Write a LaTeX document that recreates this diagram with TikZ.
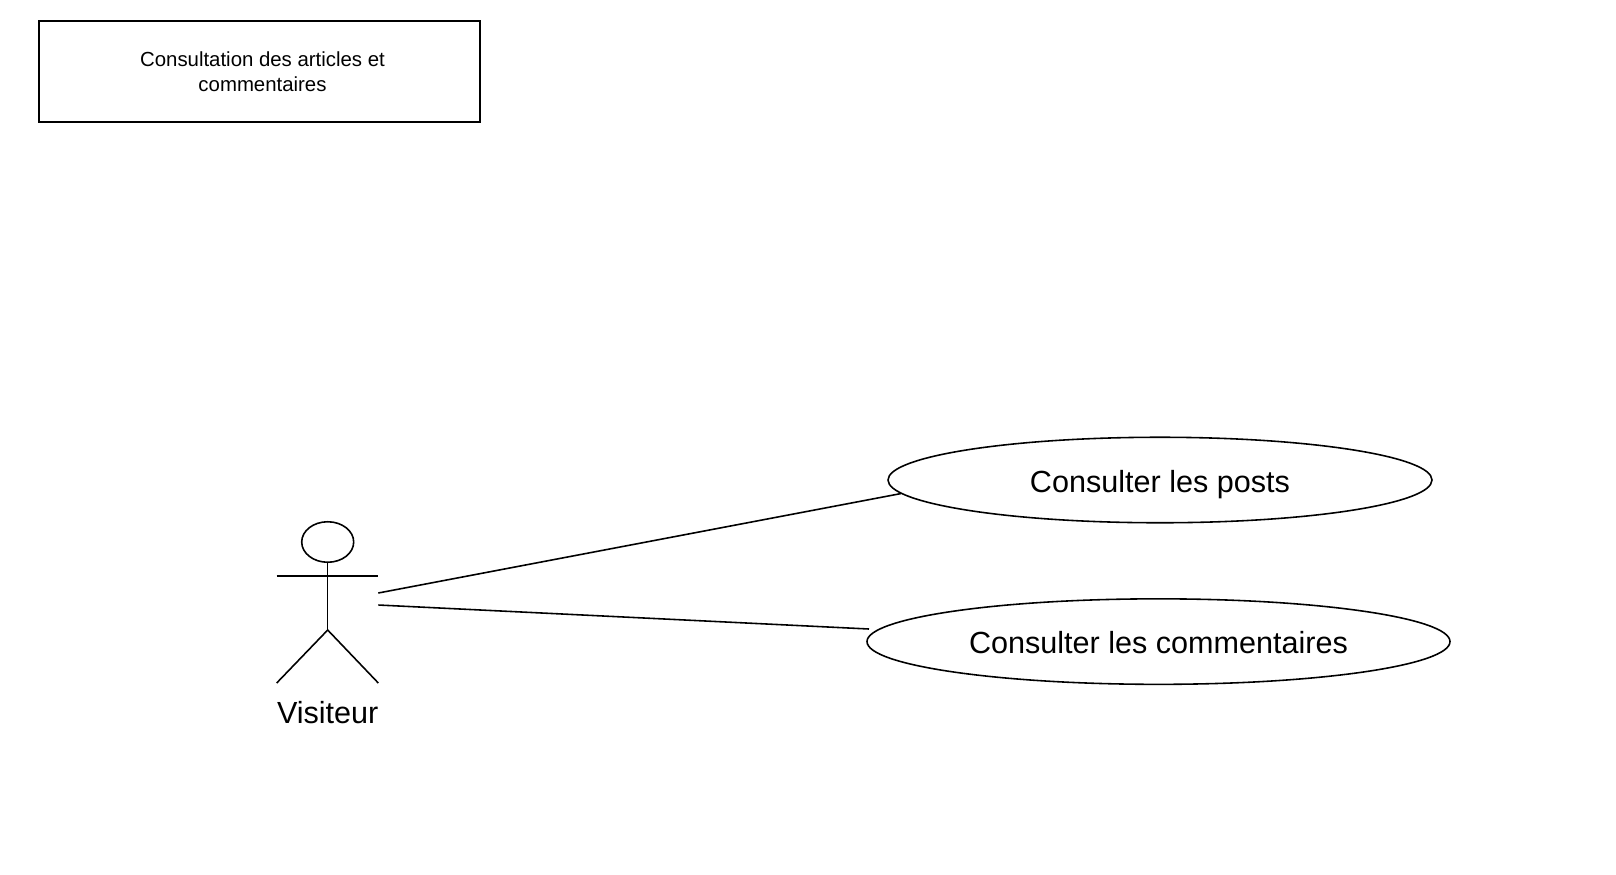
\documentclass[tikz,border=0pt]{standalone}
\usepackage{fontspec}
\setmainfont{Liberation Sans}
\usetikzlibrary{positioning, shapes.geometric}

\begin{document}
\begin{tikzpicture}[
    line width=0.9pt,
    titlebox/.style={draw, minimum width=8.83cm, minimum height=2.03cm, align=center, inner sep=0pt,
        font=\fontsize{11.6}{13.9}\selectfont},
    usecase/.style={draw, ellipse, minimum height=1.71cm, inner sep=0pt, text height=0.56cm, text depth=0.07cm,
        font=\fontsize{17.4}{20}\selectfont}]
  \useasboundingbox (0,0) rectangle (32.32,-17.48);
  \node[titlebox] (title) at (5.19,-1.43)
        {\hspace*{1.2mm}Consultation des articles et\\ \hspace*{1.2mm}commentaires};
  \node[usecase, minimum width=10.88cm] (posts) at (23.2,-9.6) {Consulter les posts};
  \node[usecase, minimum width=11.66cm, below=1.49cm of posts, xshift=-0.03cm] (comments) {Consulter les commentaires};
  % stick figure
  \node[draw, ellipse, minimum width=1.04cm, minimum height=0.81cm, inner sep=0pt] (head) at (6.554,-10.84) {};
  \coordinate (hip) at (6.554,-12.6);
  \coordinate (armL) at (5.534,-11.52);
  \coordinate (armR) at (7.566,-11.52);
  \coordinate (footL) at (5.534,-13.66);
  \coordinate (footR) at (7.566,-13.66);
  \draw (head.south) -- (hip);
  \draw (armL) -- (armR);
  \foreach \n in {footL,footR} \draw (hip) -- (\n);
  \node[anchor=base, inner sep=0pt, font=\fontsize{17.4}{20}\selectfont] (visiteur) at (6.554,-14.46) {Visiteur};
  % associations
  \coordinate (linkA) at (7.566,-11.86);
  \coordinate (linkB) at (7.566,-12.1);
  \coordinate (linkC) at (17.38,-12.58);
  \draw (linkA) -- (posts.183);
  \draw (linkB) -- (linkC);
\end{tikzpicture}
\end{document}
